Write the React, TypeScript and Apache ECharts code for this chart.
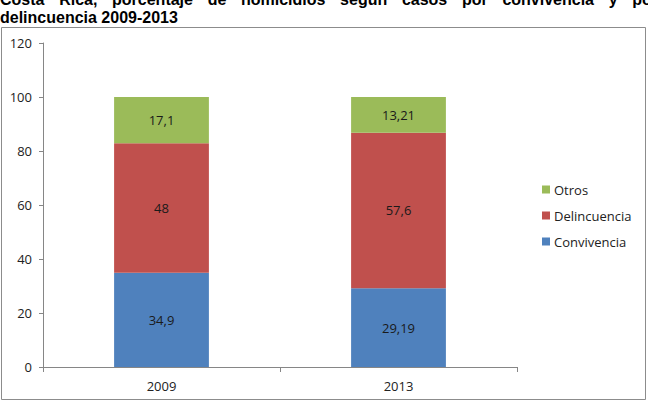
import React, { useEffect, useRef } from "react";
import * as echarts from "echarts";

const titleLine1 = "Costa Rica, porcentaje de homicidios según casos por convivencia y por";
const titleLine2 = "delincuencia 2009-2013";

const years = ["2009", "2013"];
const convivencia = [34.9, 29.19];
const delincuencia = [48, 57.6];
const otros = [17.1, 13.21];

const yMin = 0;
const yMax = 120;
const yStep = 20;

const FONT = "'Open Sans', 'Noto Sans', sans-serif";
const TITLE_FONT = "'Liberation Sans', Arial, sans-serif";

// Lay out a justified line of bold title text word by word.
function justifiedWords(text: string, lineWidth: number, fontSize: number, y: number) {
  const words = text.split(" ");
  const canvas = document.createElement("canvas");
  const ctx = canvas.getContext("2d")!;
  ctx.font = `bold ${fontSize}px ${TITLE_FONT}`;
  const widths = words.map((w) => ctx.measureText(w).width);
  const total = widths.reduce((a, b) => a + b, 0);
  const gap = (lineWidth - total) / (words.length - 1);
  let x = 0;
  return words.map((w, i) => {
    const el = {
      type: "text",
      x,
      y,
      style: {
        text: w,
        font: `bold ${fontSize}px ${TITLE_FONT}`,
        fill: "#000",
        verticalAlign: "middle",
      },
    };
    x += widths[i] + gap;
    return el;
  });
}

export default function App() {
  const ref = useRef<HTMLDivElement>(null);

  useEffect(() => {
    if (!ref.current) return;
    const chart = echarts.init(ref.current, undefined, { renderer: "svg" });
    const fmt = (p: any) => String(p.value).replace(".", ",");
    const barLabel = {
      show: true,
      position: "inside",
      color: "#1a1a1a",
      fontFamily: FONT,
      fontSize: 13,
      formatter: fmt,
    };

    chart.setOption({
      animation: false,
      backgroundColor: "#fff",
      graphic: [
        {
          type: "rect",
          shape: { x: 1.5, y: 27.5, width: 644, height: 372 },
          style: { fill: "none", stroke: "#8c8c8c", lineWidth: 1 },
          silent: true,
        },
        ...justifiedWords(titleLine1, 658, 16, -0.5),
        {
          type: "text",
          x: 0,
          y: 17,
          style: {
            text: titleLine2,
            font: `bold 16px ${TITLE_FONT}`,
            fill: "#000",
            verticalAlign: "middle",
          },
        },
      ],
      legend: {
        orient: "vertical",
        left: 537,
        top: 178,
        itemWidth: 8,
        itemHeight: 8,
        itemGap: 13,
        icon: "rect",
        data: ["Otros", "Delincuencia", "Convivencia"],
        textStyle: { fontFamily: FONT, fontSize: 13, color: "#222", padding: [0, 0, 0, -1] },
      },
      grid: { left: 43, right: 131, top: 43, bottom: 38, containLabel: false },
      xAxis: {
        type: "category",
        data: years,
        axisLine: { lineStyle: { color: "#868686" } },
        axisTick: { show: true, length: 5, lineStyle: { color: "#868686" } },
        axisLabel: { fontFamily: FONT, fontSize: 13, color: "#222", margin: 12 },
      },
      yAxis: {
        type: "value",
        min: yMin,
        max: yMax,
        interval: yStep,
        splitLine: { show: false },
        axisLine: { show: true, lineStyle: { color: "#868686" } },
        axisTick: { show: true, length: 4, lineStyle: { color: "#868686" } },
        axisLabel: { fontFamily: FONT, fontSize: 13, color: "#222", margin: 11 },
      },
      series: [
        {
          name: "Convivencia",
          type: "bar",
          stack: "total",
          data: convivencia,
          barWidth: "40%",
          itemStyle: { color: "#4F81BD" },
          label: barLabel,
        },
        {
          name: "Delincuencia",
          type: "bar",
          stack: "total",
          data: delincuencia,
          itemStyle: { color: "#C0504D" },
          label: barLabel,
        },
        {
          name: "Otros",
          type: "bar",
          stack: "total",
          data: otros,
          itemStyle: { color: "#9BBB59" },
          label: barLabel,
        },
      ],
    });
    return () => chart.dispose();
  }, []);

  return (
    <div
      ref={ref}
      style={{ position: "fixed", left: 0, top: 0, width: 648, height: 405, background: "#fff" }}
    />
  );
}
